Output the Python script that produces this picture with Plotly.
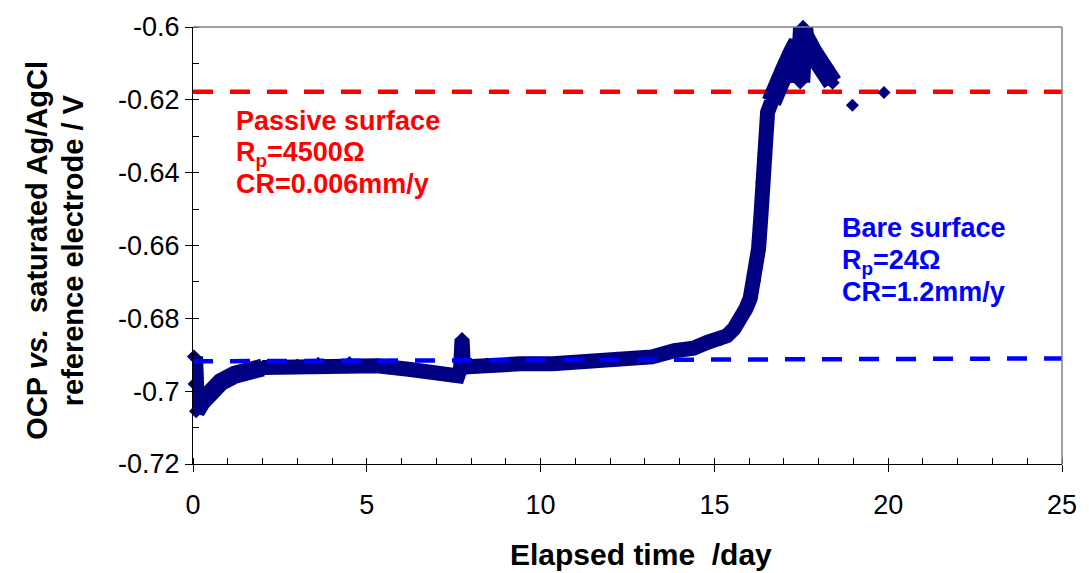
import plotly.graph_objects as go

# Open-circuit potential record (day, V vs. sat. Ag/AgCl)
elapsed_day = [
    0.03, 0.05, 0.09, 0.25, 0.50, 0.80, 1.20, 1.60, 2.00, 2.50, 3.00, 3.60,
    4.50, 5.30, 6.20, 7.00, 7.45, 7.62, 7.70, 7.74, 7.78, 7.90, 8.45, 9.40,
    10.35, 11.30, 12.20, 13.20, 13.85, 14.40, 14.80, 15.20, 15.36, 15.56,
    15.76, 15.90, 16.03, 16.14, 16.27, 16.34, 16.38, 16.44, 16.53, 16.64,
    16.72, 17.04, 17.26, 17.41, 17.47, 17.52, 17.55, 17.58, 17.83, 18.09,
    18.40,
]
ocp_v = [
    -0.6905, -0.6980, -0.7055, -0.7030, -0.7000, -0.6975, -0.6955, -0.6940,
    -0.6935, -0.6934, -0.6930, -0.6925, -0.6923, -0.6930, -0.6940, -0.6950,
    -0.6957, -0.6958, -0.6935, -0.6857, -0.6935, -0.6933, -0.6927, -0.6925,
    -0.6925, -0.6918, -0.6911, -0.6906, -0.6889, -0.6882, -0.6866, -0.6856,
    -0.6848, -0.6829, -0.6802, -0.6775, -0.6745, -0.6698, -0.6609, -0.6516,
    -0.6426, -0.6345, -0.6234, -0.6206, -0.6179, -0.6116, -0.6070, -0.6043,
    -0.6152, -0.6025, -0.6000, -0.6025, -0.6070, -0.6116, -0.6153,
]

# Sparse readings at the end of the test
late_day = [18.97, 19.88]
late_ocp_v = [-0.6215, -0.6180]

# Reference potential levels
passive_day = [0, 25]
passive_v = [-0.6178, -0.6178]
bare_day = [0, 25]
bare_v = [-0.6918, -0.6910]

# Axis ticks
x_ticks = [0, 5, 10, 15, 20, 25]
y_ticks = [-0.72, -0.70, -0.68, -0.66, -0.64, -0.62, -0.60]
y_tick_text = ["-0.72", "-0.7", "-0.68", "-0.66", "-0.64", "-0.62", "-0.6"]

FONT = "Liberation Sans, Arial, sans-serif"
NAVY = "#000080"

# The scatter is wider during the initial transient and after breakdown,
# so those stretches are stroked with a heavier line.
EARLY_END = 8      # index of day 2.0
LATE_START = 43    # index of day 16.64

fig = go.Figure()

fig.add_trace(go.Scatter(
    x=passive_day, y=passive_v, mode="lines",
    line=dict(color="#FF0000", width=4.5, dash="20px,17px"),
    hoverinfo="skip", showlegend=False,
))


def ocp_segment(i0, i1, width):
    fig.add_trace(go.Scatter(
        x=elapsed_day[i0:i1], y=ocp_v[i0:i1], mode="lines+markers",
        line=dict(color=NAVY, width=width),
        marker=dict(symbol="diamond", size=11, color=NAVY),
        cliponaxis=False, showlegend=False,
    ))


ocp_segment(0, EARLY_END + 1, 18)
ocp_segment(EARLY_END, LATE_START + 1, 15)
ocp_segment(LATE_START, len(elapsed_day), 20)

fig.add_trace(go.Scatter(
    x=late_day, y=late_ocp_v, mode="markers",
    marker=dict(symbol="diamond", size=10, color=NAVY),
    cliponaxis=False, showlegend=False,
))
fig.add_trace(go.Scatter(
    x=bare_day, y=bare_v, mode="lines",
    line=dict(color="#0000FF", width=4.5, dash="20px,17px"),
    hoverinfo="skip", showlegend=False,
))


def label_block(x, ys, lines, color):
    for y, txt in zip(ys, lines):
        fig.add_annotation(
            x=x, y=y, xref="x", yref="y", text=txt, showarrow=False,
            xanchor="left", yanchor="middle",
            font=dict(family=FONT, size=27, color=color, weight="bold"),
        )


label_block(1.17, [-0.6259, -0.6348, -0.6432],
            ["Passive surface", "R<sub>p</sub>=4500\u03a9", "CR=0.006mm/y"],
            "#FF0000")
label_block(18.61, [-0.6553, -0.6644, -0.6728],
            ["Bare surface", "R<sub>p</sub>=24\u03a9", "CR=1.2mm/y"],
            "#0000FF")

# Axis titles
fig.add_annotation(
    x=-0.1797, y=0.49, xref="paper", yref="paper",
    text="OCP <i>vs.</i>\u00a0 saturated Ag/AgCl", textangle=-90, showarrow=False,
    xanchor="center", yanchor="middle",
    font=dict(family=FONT, size=29, color="black", weight="bold"),
)
fig.add_annotation(
    x=-0.1388, y=0.49, xref="paper", yref="paper",
    text="reference electrode / V", textangle=-90, showarrow=False,
    xanchor="center", yanchor="middle",
    font=dict(family=FONT, size=29, color="black", weight="bold"),
)
fig.add_annotation(
    x=0.515, y=-0.207, xref="paper", yref="paper",
    text="Elapsed time\u00a0 /day", showarrow=False,
    xanchor="center", yanchor="middle",
    font=dict(family=FONT, size=30, color="black", weight="bold"),
)

# Grey frame on the top and right edges
fig.add_shape(type="line", xref="paper", yref="paper", x0=0, x1=1, y0=1, y1=1,
              line=dict(color="#808080", width=1.5))
fig.add_shape(type="line", xref="paper", yref="paper", x0=1, x1=1, y0=0, y1=1,
              line=dict(color="#808080", width=1.5))

fig.update_xaxes(
    range=[0, 25], tickvals=x_ticks, ticks="outside", ticklen=7, tickcolor="black",
    showline=True, linecolor="black", linewidth=1, showgrid=False, zeroline=False,
    tickfont=dict(family=FONT, size=27, color="black"), ticklabelstandoff=10,
    minor=dict(dtick=1, ticks="inside", ticklen=6, tickcolor="black", showgrid=False),
)
fig.update_yaxes(
    range=[-0.72, -0.6], tickvals=y_ticks, ticktext=y_tick_text, ticks="outside",
    ticklen=7, tickcolor="black", showline=True, linecolor="black", linewidth=1,
    showgrid=False, zeroline=False,
    tickfont=dict(family=FONT, size=27, color="black"),
    minor=dict(dtick=0.01, tick0=-0.72, ticks="inside", ticklen=6,
               tickcolor="black", showgrid=False),
)

fig.update_layout(
    width=1089, height=573,
    margin=dict(l=193, r=17, t=24, b=109),
    paper_bgcolor="white", plot_bgcolor="white",
    showlegend=False,
)

fig.write_html("out.html")
